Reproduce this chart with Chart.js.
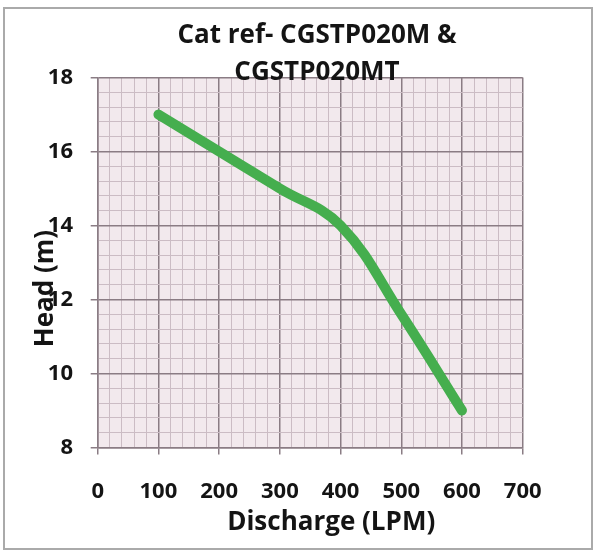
<!DOCTYPE html>
<html>
<head>
<meta charset="utf-8">
<script src="https://cdn.jsdelivr.net/npm/chart.js@4/dist/chart.umd.min.js"></script>
<style>
  html, body { margin: 0; padding: 0; background: #ffffff; }
  canvas { display: block; }
</style>
</head>
<body>
<canvas id="c" width="596" height="554"></canvas>
<script>
// ---- data ----
const titleLines = ['Cat ref- CGSTP020M &', 'CGSTP020MT'];
const xAxisTitle = 'Discharge (LPM)';
const yAxisTitle = 'Head (m)';
const discharge = [100, 200, 300, 400, 500, 600];      // LPM
const head      = [17, 16, 15, 14, 11.6, 9];            // m
const xTickLabels = [0, 100, 200, 300, 400, 500, 600, 700];
const yTickLabels = [8, 10, 12, 14, 16, 18];

const FONT = "'Open Sans', 'DejaVu Sans', sans-serif";
const TEXT = '#141414';
const MAJOR = '#8a7c84';
const MINOR = '#cbbcc4';

const isMajorX = v => xTickLabels.some(t => Math.abs(t - v) < 1e-6);
const isMajorY = v => yTickLabels.some(t => Math.abs(t - v) < 1e-6);

const points = discharge.map((x, i) => ({ x: x, y: head[i] }));

const decor = {
  id: 'decor',
  beforeDraw(chart, args, opts) {
    const { ctx, chartArea: a } = chart;
    ctx.save();
    ctx.fillStyle = '#ffffff';
    ctx.fillRect(0, 0, chart.width, chart.height);
    ctx.strokeStyle = '#aaaaaa';
    ctx.lineWidth = 2;
    ctx.strokeRect(4, 8, chart.width - 8, chart.height - 13);
    ctx.fillStyle = '#f2e9ed';
    ctx.fillRect(a.left, a.top, a.right - a.left, a.bottom - a.top);
    ctx.restore();
  },
  afterDraw(chart, args, opts) {
    const { ctx, chartArea: a } = chart;
    ctx.save();
    ctx.fillStyle = TEXT;
    ctx.font = 'bold 26px ' + FONT;
    ctx.textAlign = 'center';
    ctx.textBaseline = 'middle';
    // x axis title
    ctx.fillText(xAxisTitle, (a.left + a.right) / 2 + 21, a.bottom + 75);
    // y axis title
    ctx.translate(a.left - 52, (a.top + a.bottom) / 2 + 26);
    ctx.rotate(-Math.PI / 2);
    ctx.fillText(yAxisTitle, 0, 0);
    ctx.restore();
  }
};

new Chart(document.getElementById('c'), {
  type: 'line',
  data: {
    datasets: [{
      data: points,
      borderColor: '#45ae4e',
      borderWidth: 10,
      borderCapStyle: 'round',
      borderJoinStyle: 'round',
      pointRadius: 0,
      tension: 0.4,
      fill: false
    }]
  },
  options: {
    responsive: false,
    animation: false,
    devicePixelRatio: 1,
    layout: { padding: { left: 38, right: 0, top: 10, bottom: 0 } },
    plugins: {
      legend: { display: false },
      tooltip: { enabled: false },
      title: {
        display: true,
        text: titleLines,
        color: TEXT,
        font: { family: FONT, size: 26, weight: 'bold', lineHeight: '37px' },
        padding: { top: 7, bottom: -13.5 }
      }
    },
    scales: {
      x: {
        type: 'linear',
        min: 0, max: 700,
        afterFit: s => { s.height = 106.5; },
        ticks: {
          stepSize: 20,
          autoSkip: false,
          maxRotation: 0,
          padding: 24,
          color: TEXT,
          font: { family: FONT, size: 22, weight: 'bold' },
          callback: v => isMajorX(v) ? String(v) : ''
        },
        grid: {
          color: c => isMajorX(c.tick.value) ? MAJOR : MINOR,
          lineWidth: c => isMajorX(c.tick.value) ? 1.5 : 1,
          tickColor: c => isMajorX(c.tick.value) ? MAJOR : 'rgba(0,0,0,0)',
          tickLength: 7
        },
        border: { color: MAJOR, width: 1.5 }
      },
      y: {
        type: 'linear',
        position: 'left',
        min: 8, max: 18,
        afterFit: s => { s.width = 59.7; },
        ticks: {
          stepSize: 0.4,
          autoSkip: false,
          padding: 17.7,
          color: TEXT,
          font: { family: FONT, size: 22, weight: 'bold' },
          callback: v => isMajorY(v) ? String(Math.round(v)) : ''
        },
        grid: {
          color: c => isMajorY(c.tick.value) ? MAJOR : MINOR,
          lineWidth: c => isMajorY(c.tick.value) ? 1.5 : 1,
          tickColor: c => isMajorY(c.tick.value) ? MAJOR : 'rgba(0,0,0,0)',
          tickLength: 7
        },
        border: { color: MAJOR, width: 1.5 }
      },
      y2: {
        type: 'linear',
        position: 'right',
        display: true,
        afterFit: s => { s.width = 73.3; },
        grid: { display: false, drawOnChartArea: false },
        ticks: { display: false },
        border: { display: false }
      }
    }
  },
  plugins: [decor]
});
</script>
</body>
</html>
